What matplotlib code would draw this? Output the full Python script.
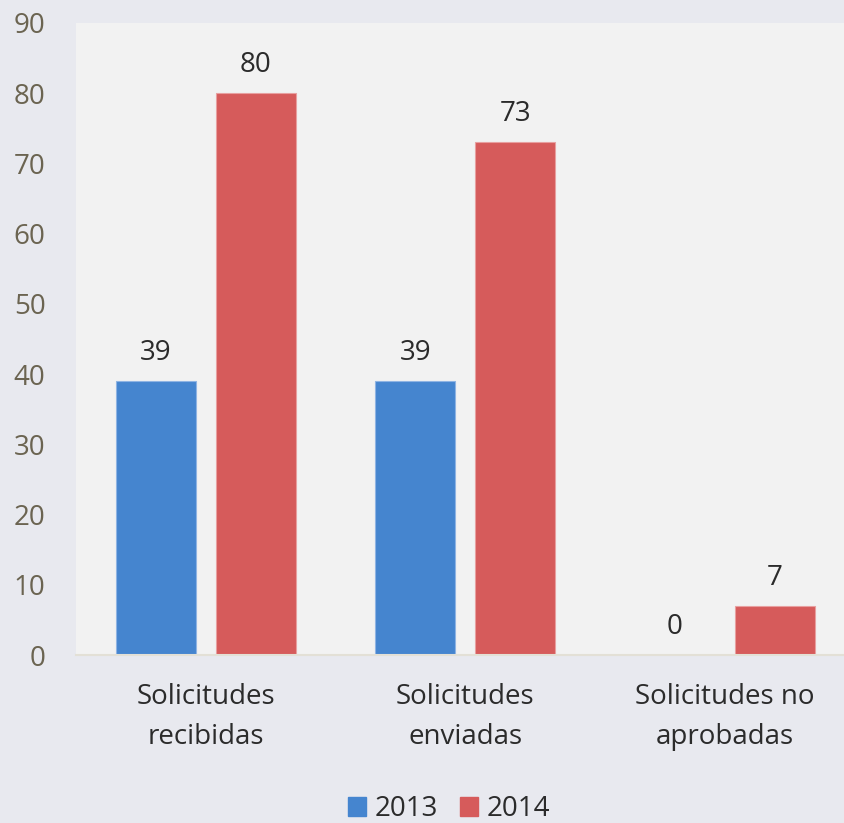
import numpy as np
import matplotlib.pyplot as plt
from matplotlib.patches import Patch

# Datos
categorias = ['Solicitudes\nrecibidas', 'Solicitudes\nenviadas', 'Solicitudes no\naprobadas']
series = ['2013', '2014']
valores_2013 = [39, 39, 0]
valores_2014 = [80, 73, 7]
ticks_y = [0, 10, 20, 30, 40, 50, 60, 70, 80, 90]

AZUL = '#4585CF'
ROJO = '#D65B5B'
FONDO = '#E8E9EF'
AREA = '#F2F2F2'
COLOR_EJE = '#6B6451'
COLOR_TEXTO = '#2B2B2B'
TAM = 20

plt.rcParams['font.family'] = ['Open Sans', 'DejaVu Sans']

fig = plt.figure(figsize=(8.44, 8.23), dpi=100)
fig.patch.set_facecolor(FONDO)
ax = fig.add_axes([76 / 844, 1 - 655 / 823, 778.5 / 844, 632 / 823])
ax.set_facecolor(AREA)

x = np.arange(len(categorias))
ancho = 0.308
desp = 0.192
b1 = ax.bar(x - desp, valores_2013, ancho, color=AZUL, edgecolor='#8FB4E3', linewidth=0.8)
b2 = ax.bar(x + desp, valores_2014, ancho, color=ROJO, edgecolor='#E8A0A0', linewidth=0.8)

# etiquetas de valor
for barras in (b1, b2):
    for b in barras:
        ax.annotate(f'{int(b.get_height())}',
                    (b.get_x() + b.get_width() / 2, b.get_height()),
                    xytext=(0, 10), textcoords='offset points',
                    ha='center', va='bottom', fontsize=TAM, color=COLOR_TEXTO)

ax.set_xlim(-0.5, 2.5)
ax.set_ylim(0, 90)
ax.set_yticks(ticks_y)
ax.set_xticks(x)
ax.set_xticklabels(categorias, fontsize=TAM, color=COLOR_TEXTO, linespacing=1.6)
ax.tick_params(axis='y', labelsize=TAM, labelcolor=COLOR_EJE, length=0, pad=22)
ax.tick_params(axis='x', length=0, pad=20)
for lado in ['top', 'right', 'left']:
    ax.spines[lado].set_visible(False)
ax.spines['bottom'].set_color('#E3E0D6')
ax.spines['bottom'].set_linewidth(1.5)

handles = [Patch(color=AZUL, label=series[0]), Patch(color=ROJO, label=series[1])]
fig.legend(handles=handles, loc='center', bbox_to_anchor=(449 / 844, 1 - 809 / 823),
           ncol=2, frameon=False, fontsize=TAM, handlelength=0.65, handleheight=0.65,
           handletextpad=0.3, columnspacing=0.8, labelcolor=COLOR_TEXTO)

fig.savefig('out.png', dpi=100, facecolor=FONDO)
